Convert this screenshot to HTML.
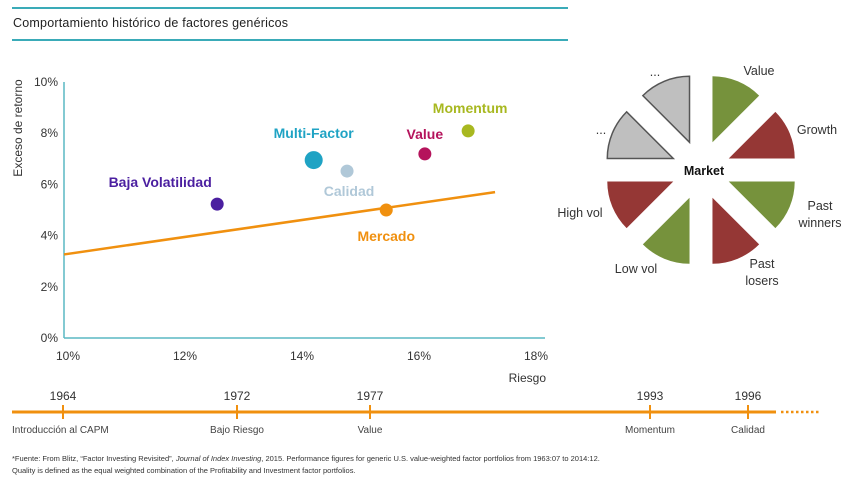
<!DOCTYPE html>
<html><head><meta charset="utf-8"><style>
body{margin:0;background:#fff;}
svg text{font-family:"Liberation Sans",sans-serif;}
</style></head><body>
<svg width="850" height="482" viewBox="0 0 850 482" xmlns="http://www.w3.org/2000/svg">
<line x1="12" y1="8" x2="568" y2="8" stroke="#3aabb8" stroke-width="2"/>
<text x="13" y="27" font-size="12.5" fill="#222" textLength="275">Comportamiento histórico de factores genéricos</text>
<line x1="12" y1="40" x2="568" y2="40" stroke="#3aabb8" stroke-width="2"/>
<g id="plot"></g>
<g id="pie"></g>
<g id="timeline"></g>
<text x="12" y="461" font-size="7.5" fill="#333">*Fuente: From Blitz, “Factor Investing Revisited”, <tspan font-style="italic">Journal of Index Investing</tspan>, 2015. Performance figures for generic U.S. value-weighted factor portfolios from 1963:07 to 2014:12.</text>
<text x="12" y="473" font-size="7.5" fill="#333">Quality is defined as the equal weighted combination of the Profitability and Investment factor portfolios.</text>
</svg>
<script>
const NS="http://www.w3.org/2000/svg";
function mk(parent,tag,attrs,text){const e=document.createElementNS(NS,tag);for(const k in attrs)e.setAttribute(k,attrs[k]);if(text!==undefined)e.textContent=text;parent.appendChild(e);return e;}

// ---- scatter data ----
const factorNames=["Baja Volatilidad","Multi-Factor","Calidad","Value","Momentum","Mercado"];
const riskValues=[12.55,14.2,14.77,16.1,16.84,15.44];
const returnValues=[5.23,6.95,6.52,7.19,8.09,5.0];
const factorColors=["#4b1fa0","#1fa3c4","#b0c8d8","#b5145c","#a8b820","#f0900f"];
const xTicks=[10,12,14,16,18];
const yTicks=[0,2,4,6,8,10];
const lineRisk=[10,17.3];
const lineReturn=[3.28,5.7];

const X=v=>68+(v-10)*58.5;
const Y=v=>338-v*25.6;
const plot=document.getElementById('plot');

let e=mk(plot,'line',{x1:64,y1:Y(10),x2:64,y2:338,stroke:'#5ab8c4','stroke-width':1.5});


e=mk(plot,'line',{x1:64,y1:338,x2:545,y2:338,stroke:'#5ab8c4','stroke-width':1.5});


yTicks.forEach(t=>{const l=mk(plot,'text',{x:58,y:Y(t)+4,'font-size':12,fill:'#333','text-anchor':'end'},t+'%');

});
xTicks.forEach(t=>{const l=mk(plot,'text',{x:X(t),y:360,'font-size':12,fill:'#333','text-anchor':'middle'},t+'%');

});
e=mk(plot,'text',{x:546,y:382,'font-size':12,fill:'#333','text-anchor':'end'},'Riesgo');


e=mk(plot,'text',{x:0,y:0,'font-size':12,fill:'#333','text-anchor':'middle',transform:'translate(22,128) rotate(-90)'},'Exceso de retorno');


e=mk(plot,'line',{x1:X(lineRisk[0])-4,y1:Y(lineReturn[0])+0.4,x2:X(lineRisk[1]),y2:Y(lineReturn[1]),stroke:'#f0900f','stroke-width':2.5});



const labelOffsets=[[-57,-17],[0,-22],[2,25],[0,-15],[2,-18],[0,31]];
factorNames.forEach((n,i)=>{
  const cx=X(riskValues[i]),cy=Y(returnValues[i]);
  const c=mk(plot,'circle',{cx:cx,cy:cy,r:i===1?9:6.5,fill:factorColors[i]});
  
  
  const t=mk(plot,'text',{x:cx+labelOffsets[i][0],y:cy+labelOffsets[i][1],'font-size':14,'font-weight':'bold',fill:factorColors[i],'text-anchor':'middle'},n);
  
  
});

// ---- pie diagram ----
const pie=document.getElementById('pie');
const sectorColors=["#76923c","#953735","#76923c","#953735","#76923c","#953735","#bfbfbf","#bfbfbf"];
const pcx=701,pcy=170,R=66,off=30;
for(let i=0;i<8;i++){
  const a0=(i*45-90)*Math.PI/180,a1=((i+1)*45-90)*Math.PI/180,am=(a0+a1)/2;
  const ax=pcx+off*Math.cos(am),ay=pcy+off*Math.sin(am);
  const d=`M${ax},${ay} L${ax+R*Math.cos(a0)},${ay+R*Math.sin(a0)} A${R},${R} 0 0 1 ${ax+R*Math.cos(a1)},${ay+R*Math.sin(a1)} Z`;
  const g=i>=6;
  const p=mk(pie,'path',{d:d,fill:sectorColors[i],stroke:g?'#555':'none','stroke-width':g?1.5:0});
  
  
}
const pieLabels=[["Value",759,75],["Growth",817,134],["Past",820,210],["winners",820,227],["Past",762,268],["losers",762,285],["Low vol",636,273],["High vol",580,217],["...",601,134],["...",655,76]];
pieLabels.forEach(l=>{const t=mk(pie,'text',{x:l[1],y:l[2],'font-size':12.5,fill:'#333','text-anchor':'middle'},l[0]);

});
e=mk(pie,'text',{x:pcx+3,y:pcy+5,'font-size':12.5,'font-weight':'bold',fill:'#111','text-anchor':'middle'},'Market');



// ---- timeline ----
const tl=document.getElementById('timeline');
const years=["1964","1972","1977","1993","1996"];
const events=["Introducción al CAPM","Bajo Riesgo","Value","Momentum","Calidad"];
const yearNums=[1964,1972,1977,1993,1996];
// piecewise (non-uniform) timeline scale as drawn in the source
const tDomain=[1964,1972,1977,1993,1996];
const tRange=[63,237,370,650,748];
function TX(y){for(let i=0;i<tDomain.length-1;i++){if(y<=tDomain[i+1]){return tRange[i]+(y-tDomain[i])/(tDomain[i+1]-tDomain[i])*(tRange[i+1]-tRange[i]);}}return tRange[tRange.length-1];}
e=mk(tl,'line',{x1:12,y1:412,x2:776,y2:412,stroke:'#f0900f','stroke-width':3});


e=mk(tl,'line',{x1:781,y1:412,x2:820,y2:412,stroke:'#f0900f','stroke-width':2.5,'stroke-dasharray':'2.5 2.5'});


years.forEach((y,i)=>{
  const x=TX(yearNums[i]);
  const tk=mk(tl,'line',{x1:x,y1:405,x2:x,y2:419,stroke:'#f0900f','stroke-width':2});
  
  
  const yt=mk(tl,'text',{x:x,y:400,'font-size':12,fill:'#333','text-anchor':'middle'},y);
  
  
  const ev=mk(tl,'text',{x:i===0?12:x,y:433,'font-size':10,fill:'#444','text-anchor':i===0?'start':'middle'},events[i]);
  
  
});
</script>
</body></html>
